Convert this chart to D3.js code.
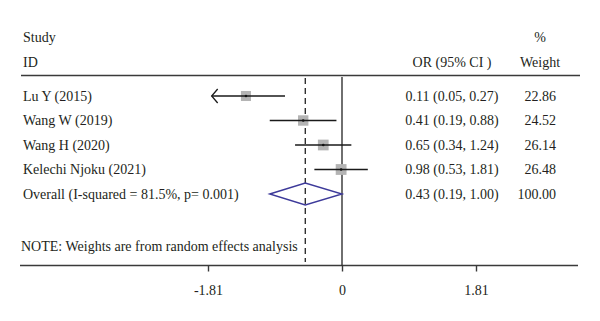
<!DOCTYPE html>
<html><head><meta charset="utf-8">
<script src="https://cdn.jsdelivr.net/npm/d3@7"></script>
<style>
html,body{margin:0;padding:0;background:#fff;}
svg{display:block;}
text{font-family:"Liberation Serif","DejaVu Serif",serif;font-size:14px;fill:#231f20;}
</style></head>
<body>
<script>
// ---- data ----
const studies   = ["Lu Y (2015)", "Wang W (2019)", "Wang H (2020)", "Kelechi Njoku (2021)"];
const orValues  = [0.11, 0.41, 0.65, 0.98];
const ciLower   = [0.05, 0.19, 0.34, 0.53];
const ciUpper   = [0.27, 0.88, 1.24, 1.81];
const weights   = [22.86, 24.52, 26.14, 26.48];
const overallLabel = "Overall (I-squared = 81.5%, p= 0.001)";
const overall   = {or: 0.43, lo: 0.19, hi: 1.00, weight: 100.00};
const tickPositionsLn = [-3.08, 0, 3.08];   // positions on the log-OR axis
const tickLabels      = ["-1.81", "0", "1.81"];
const note = "NOTE: Weights are from random effects analysis";

const W = 600, H = 321;
const svg = d3.select("body").append("svg").attr("width", W).attr("height", H);

const x = d3.scaleLinear().domain([-3.08, 3.08]).range([208, 476]);
const axisLowerLn = -2.9;   // CIs beyond this get an arrow
const rows = d3.range(studies.length + 1);
const y = d3.scalePoint().domain(rows).range([96, 194]);

const textLeft = 23, orCol = 452, wtCol = 556, wtHead = 540;
const ink = "#231f20";

// headers
svg.append("text").attr("x", textLeft).attr("y", 37).attr("dy", "0.35em").text("Study");
svg.append("text").attr("x", textLeft).attr("y", 62).attr("dy", "0.35em").text("ID");
svg.append("text").attr("x", wtHead).attr("y", 37).attr("dy", "0.35em").attr("text-anchor", "middle").text("%");
svg.append("text").attr("x", wtHead).attr("y", 62).attr("dy", "0.35em").attr("text-anchor", "middle").text("Weight");
svg.append("text").attr("x", orCol).attr("y", 62).attr("dy", "0.35em").attr("text-anchor", "middle").text("OR (95% CI )");

// header rule
svg.append("line").attr("x1", 21).attr("x2", 580).attr("y1", 75.5).attr("y2", 75.5)
  .attr("stroke", "#3a3a3a").attr("stroke-width", 1.6);

// axis
const axisY = 265.5;
svg.append("line").attr("x1", 20).attr("x2", 578).attr("y1", axisY).attr("y2", axisY)
  .attr("stroke", "#3a3a3a").attr("stroke-width", 1.6);
const axis = d3.axisBottom(x).tickValues(tickPositionsLn)
  .tickFormat((d, i) => tickLabels[i]).tickSize(6).tickPadding(14);
const gAxis = svg.append("g").attr("transform", `translate(0,${axisY})`).call(axis);
gAxis.select(".domain").remove();
gAxis.selectAll(".tick line").attr("stroke", "#3a3a3a").attr("stroke-width", 1.4);
gAxis.selectAll(".tick text").style("font-family", '"Liberation Serif",serif')
  .style("font-size", "14px").attr("fill", ink);

// null line (OR = 1)
svg.append("line").attr("x1", x(0)).attr("x2", x(0)).attr("y1", 77).attr("y2", axisY)
  .attr("stroke", "#222").attr("stroke-width", 1.3);
// overall dashed line
svg.append("line").attr("x1", x(Math.log(overall.or))).attr("x2", x(Math.log(overall.or)))
  .attr("y1", 78).attr("y2", 262)
  .attr("stroke", "#222").attr("stroke-width", 1.3).attr("stroke-dasharray", "6,4");

// study rows
studies.forEach((s, i) => {
  const yy = y(i);
  svg.append("text").attr("x", textLeft).attr("y", yy).attr("dy", "0.35em").text(s);
  svg.append("text").attr("x", orCol).attr("y", yy).attr("dy", "0.35em").attr("text-anchor", "middle")
    .text(`${orValues[i].toFixed(2)} (${ciLower[i].toFixed(2)}, ${ciUpper[i].toFixed(2)})`);
  svg.append("text").attr("x", wtCol).attr("y", yy).attr("dy", "0.35em").attr("text-anchor", "end")
    .text(weights[i].toFixed(2));

  const loLn = Math.log(ciLower[i]), hiLn = Math.log(ciUpper[i]);
  const clipped = loLn < axisLowerLn;
  const x1 = x(Math.max(loLn, tickPositionsLn[0]));
  // box (area ~ weight)
  const side = Math.sqrt(weights[i]) * 2.1;
  const cx = x(Math.log(orValues[i]));
  svg.append("rect").attr("x", cx - side / 2).attr("y", yy - side / 2)
    .attr("width", side).attr("height", side).attr("fill", "#b4b4b4");
  svg.append("line").attr("x1", x1).attr("x2", x(hiLn)).attr("y1", yy).attr("y2", yy)
    .attr("stroke", "#1a1a1a").attr("stroke-width", 1.3);
  svg.append("circle").attr("cx", cx).attr("cy", yy).attr("r", 1.3).attr("fill", "#111");
  if (clipped) {
    svg.append("path").attr("d", `M${x1 + 6},${yy - 7} L${x1},${yy} L${x1 + 6},${yy + 7}`)
      .attr("fill", "none").attr("stroke", "#1a1a1a").attr("stroke-width", 1.3);
  }
});

// overall row
const oy = y(studies.length);
svg.append("text").attr("x", textLeft).attr("y", oy).attr("dy", "0.35em").text(overallLabel);
svg.append("text").attr("x", orCol).attr("y", oy).attr("dy", "0.35em").attr("text-anchor", "middle")
  .text(`${overall.or.toFixed(2)} (${overall.lo.toFixed(2)}, ${overall.hi.toFixed(2)})`);
svg.append("text").attr("x", wtCol).attr("y", oy).attr("dy", "0.35em").attr("text-anchor", "end")
  .text(overall.weight.toFixed(2));
const dh = 11;
const xc = x(Math.log(overall.or)), xl = x(Math.log(overall.lo)), xr = x(Math.log(overall.hi));
svg.append("path").attr("d", `M${xl},${oy} L${xc},${oy - dh} L${xr},${oy} L${xc},${oy + dh} Z`)
  .attr("fill", "none").attr("stroke", "#3d3a9a").attr("stroke-width", 1.4);

// note
svg.append("text").attr("x", 21).attr("y", 246).attr("dy", "0.35em").text(note);
</script>
</body></html>
